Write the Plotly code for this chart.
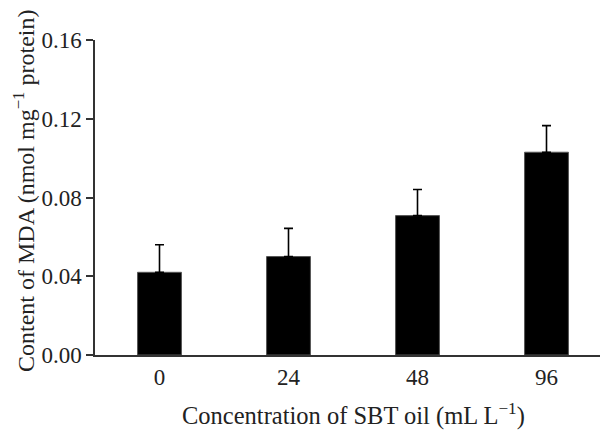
import plotly.graph_objects as go

categories = ["0", "24", "48", "96"]
mda_values = [0.042, 0.050, 0.0708, 0.103]
mda_errors = [0.014, 0.0143, 0.0133, 0.0135]
y_ticks = [0.00, 0.04, 0.08, 0.12, 0.16]
y_tick_labels = ["0.00", "0.04", "0.08", "0.12", "0.16"]
x_title = "Concentration of SBT oil (mL L<sup>−1</sup>)"
y_title = "Content of MDA (nmol mg<sup>−1</sup> protein)"

FONT = "Liberation Serif"
TXT = "#222222"

fig = go.Figure()
fig.add_trace(go.Bar(
    x=list(range(len(categories))),
    y=mda_values,
    width=0.34,
    marker=dict(color="black", line=dict(color="#555555", width=1)),
    error_y=dict(type="data", array=mda_errors, arrayminus=[0]*len(mda_errors),
                 symmetric=False, color="black", thickness=1.6, width=4.5),
))

fig.update_layout(
    width=608, height=430,
    margin=dict(l=87, r=4.5, t=32, b=83),
    paper_bgcolor="white", plot_bgcolor="white",
    showlegend=False,
    font=dict(family=FONT, size=23, color=TXT),
    xaxis=dict(
        range=[-0.5, 3.5],
        tickmode="array", tickvals=list(range(len(categories))), ticktext=categories,
        showline=True, linecolor="#333333", linewidth=1.5,
        ticks="outside", ticklen=1, tickcolor="rgba(0,0,0,0)",
        showgrid=False, zeroline=False,
        tickfont=dict(family=FONT, size=23, color=TXT),
    ),
    yaxis=dict(
        range=[0, 0.16],
        tickmode="array", tickvals=y_ticks, ticktext=y_tick_labels,
        showline=True, linecolor="#333333", linewidth=1.5,
        ticks="outside", ticklen=7, tickwidth=1.5, tickcolor="#333333",
        showgrid=False, zeroline=False,
        tickfont=dict(family=FONT, size=23, color=TXT),
    ),
    annotations=[
        dict(text=x_title, xref="paper", yref="paper", x=0.5, y=0,
             xanchor="center", yanchor="middle", yshift=-59, showarrow=False,
             font=dict(family=FONT, size=24.5, color=TXT)),
        dict(text=y_title, xref="paper", yref="paper", x=0, y=0.5206,
             xanchor="center", yanchor="middle", xshift=-71, textangle=-90,
             showarrow=False, font=dict(family=FONT, size=24, color=TXT)),
    ],
)

fig.write_html("out.html")
